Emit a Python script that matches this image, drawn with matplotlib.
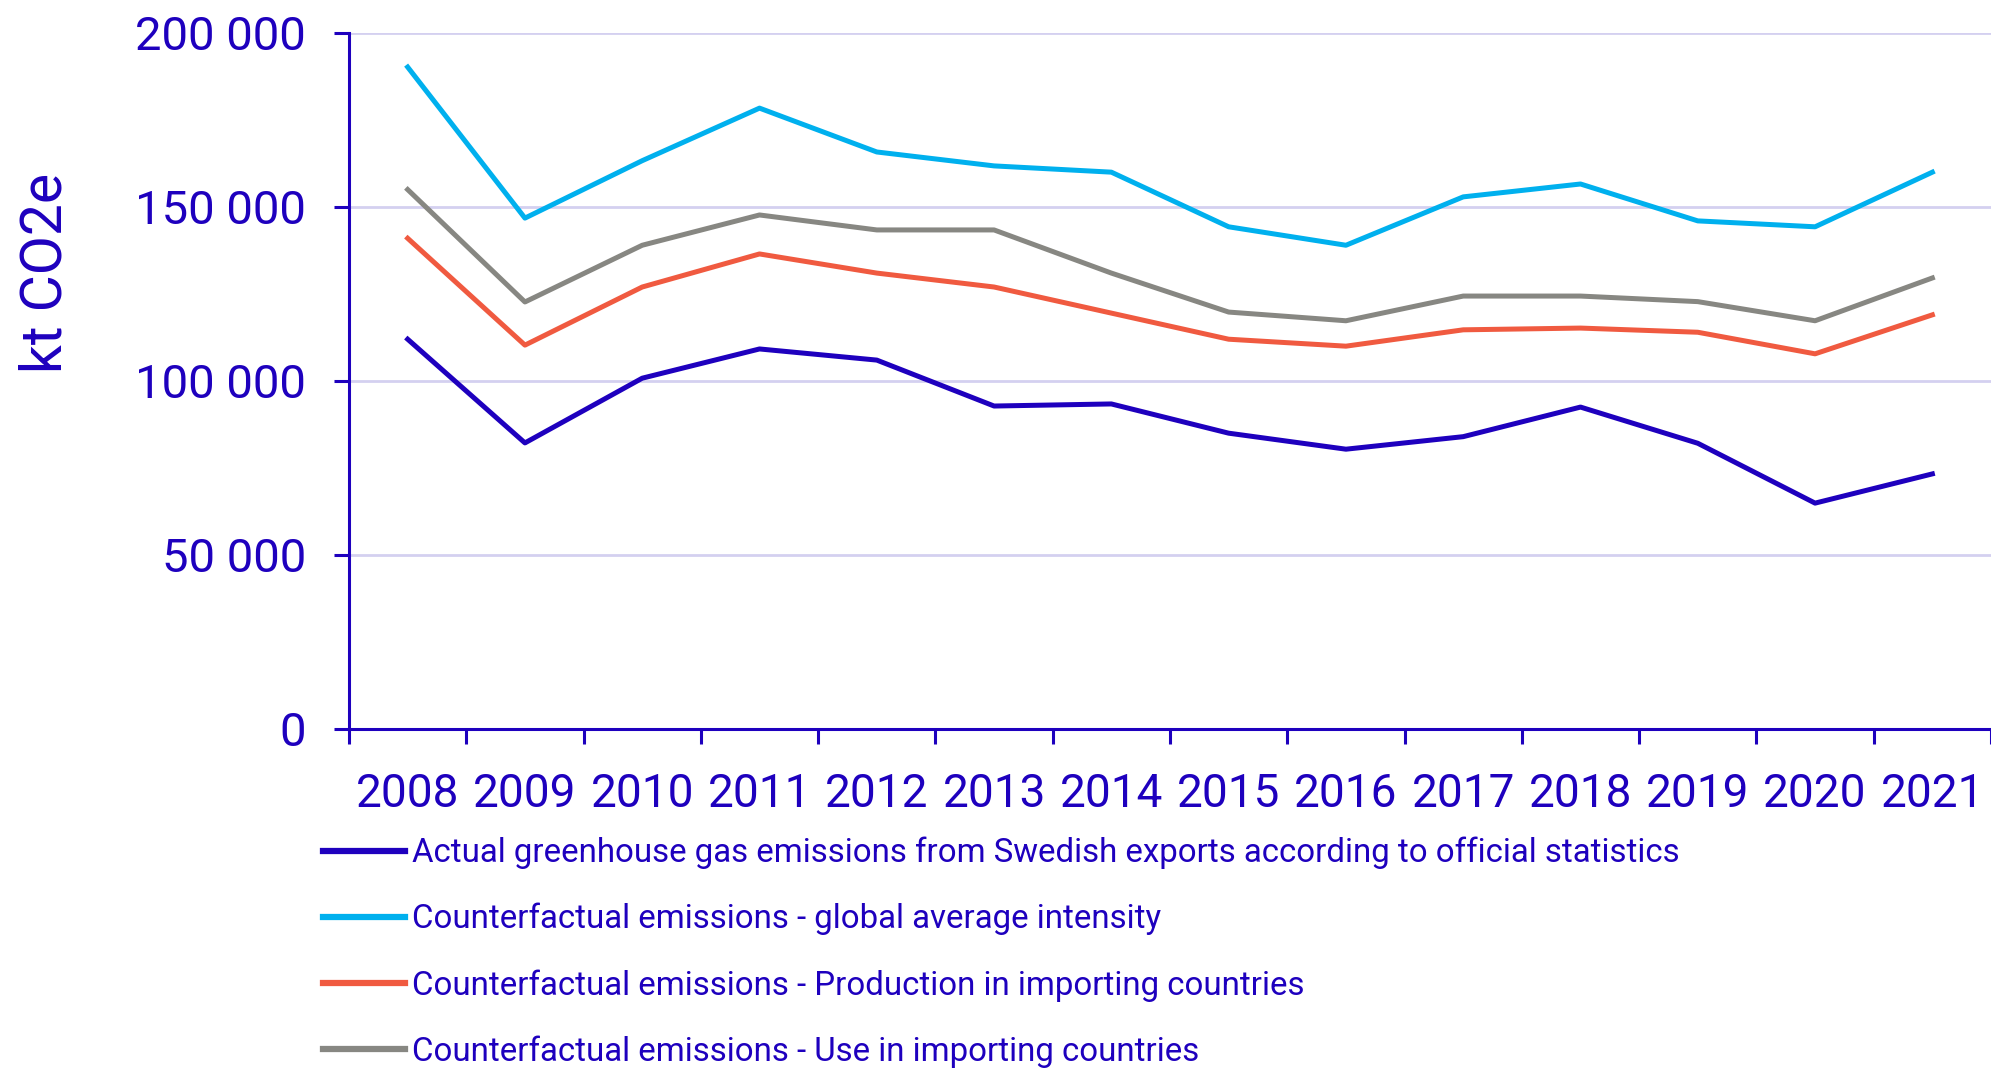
import matplotlib
matplotlib.use("Agg")
import matplotlib.pyplot as plt
import numpy as np

# data (kt CO2e)
years = ["2008", "2009", "2010", "2011", "2012", "2013", "2014",
         "2015", "2016", "2017", "2018", "2019", "2020", "2021"]
actual = [112000, 82200, 100800, 109200, 106000, 92800, 93400,
          85000, 80400, 84000, 92500, 82100, 64900, 73300]
global_avg = [190200, 146800, 163300, 178400, 165800, 161800, 160000,
              144300, 139000, 152900, 156600, 146000, 144300, 160000]
production = [141000, 110300, 127000, 136500, 131000, 127000, 119500,
              112000, 110000, 114700, 115200, 114000, 107800, 119000]
use = [155000, 122700, 139000, 147700, 143400, 143400, 131000,
       119800, 117300, 124400, 124400, 122800, 117300, 129600]

labels = ["Actual greenhouse gas emissions from Swedish exports according to official statistics",
          "Counterfactual emissions - global average intensity",
          "Counterfactual emissions - Production in importing countries",
          "Counterfactual emissions - Use in importing countries"]
colors = ["#1E00BE", "#00B0EE", "#F05A40", "#878782"]
yticks = [0, 50000, 100000, 150000, 200000]

text_col = "#1E00BE"
plt.rcParams['font.family'] = ['Roboto', 'DejaVu Sans']

fig = plt.figure(figsize=(19.91, 10.70), dpi=100)
ax = fig.add_axes([0.1753, 0.3187, 0.8247, 0.6505])

x = np.arange(len(years))
series = [actual, global_avg, production, use]
for vals, c, lab in zip(series, colors, labels):
    ax.plot(x, vals, color=c, lw=3.6, label=lab, solid_joinstyle='round')

ax.set_xlim(-0.5, len(years) - 0.5)
ax.set_ylim(0, 200000)

ax.set_yticks(yticks)
ax.set_yticklabels([f"{v:,}".replace(",", " ") for v in yticks])
ax.yaxis.grid(True, color="#D4D0F0", lw=2.0)
ax.set_axisbelow(True)

ax.set_xticks(x)
ax.set_xticklabels(years)
ax.set_xticks(np.arange(-0.5, len(years)), minor=True)

for s in ["top", "right"]:
    ax.spines[s].set_visible(False)
for s in ["left", "bottom"]:
    ax.spines[s].set_color(text_col)
    ax.spines[s].set_linewidth(2.2)

ax.tick_params(axis="y", colors=text_col, labelsize=34, length=11, width=2.2, pad=20)
ax.tick_params(axis="x", which="major", colors=text_col, labelsize=33, length=0, pad=31)
ax.tick_params(axis="x", which="minor", colors=text_col, length=11, width=2.2)

fig.text(0.023, 0.745, "kt CO2e", rotation=90, fontsize=41, color=text_col,
         ha="center", va="center")

leg = fig.legend(loc="upper left", bbox_to_anchor=(0.162, 0.218), frameon=False,
                 fontsize=23.8, handlelength=2.5, handletextpad=0.2, labelspacing=1.02,
                 borderaxespad=0, borderpad=0)
for t in leg.get_texts():
    t.set_color(text_col)
for h in leg.get_lines():
    h.set_linewidth(4.5)

fig.savefig("out.png", dpi=100)
